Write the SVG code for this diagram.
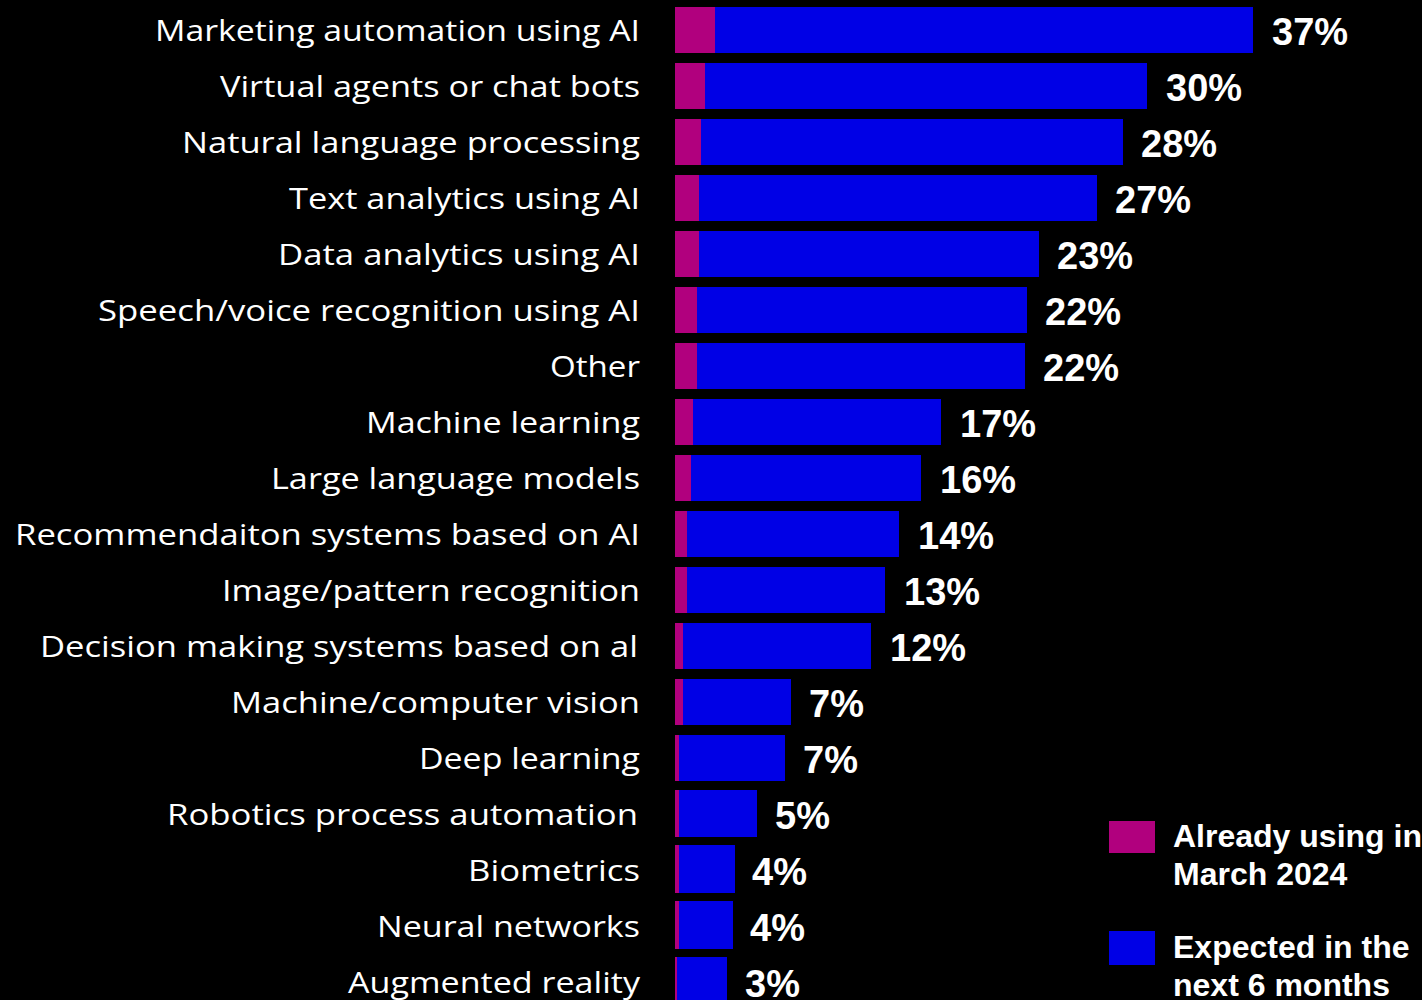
<svg xmlns="http://www.w3.org/2000/svg" width="1422" height="1000" viewBox="0 0 1422 1000">
<style>
.bg{fill:#000}
.m{fill:#B1007E}
.b{fill:#0000E6}
.lbl{font-family:"Open Sans","Liberation Sans",sans-serif;font-size:30px;fill:#fff;text-anchor:end}
.val{font-family:"Liberation Sans",Arial,sans-serif;font-weight:bold;font-size:38px;fill:#fff}
.leg{font-family:"Liberation Sans",Arial,sans-serif;font-weight:bold;font-size:32px;fill:#fff}
</style>
<rect class="bg" x="0" y="0" width="1422" height="1000"/>
<g id="labels">
<text class="lbl" x="640" y="41" textLength="485" lengthAdjust="spacingAndGlyphs">Marketing automation using AI</text>
<text class="lbl" x="640" y="97" textLength="420" lengthAdjust="spacingAndGlyphs">Virtual agents or chat bots</text>
<text class="lbl" x="640" y="153" textLength="458" lengthAdjust="spacingAndGlyphs">Natural language processing</text>
<text class="lbl" x="640" y="209" textLength="351" lengthAdjust="spacingAndGlyphs">Text analytics using AI</text>
<text class="lbl" x="640" y="265" textLength="362" lengthAdjust="spacingAndGlyphs">Data analytics using AI</text>
<text class="lbl" x="640" y="321" textLength="542" lengthAdjust="spacingAndGlyphs">Speech/voice recognition using AI</text>
<text class="lbl" x="640" y="377" textLength="90" lengthAdjust="spacingAndGlyphs">Other</text>
<text class="lbl" x="640" y="433" textLength="274" lengthAdjust="spacingAndGlyphs">Machine learning</text>
<text class="lbl" x="640" y="489" textLength="369" lengthAdjust="spacingAndGlyphs">Large language models</text>
<text class="lbl" x="640" y="545" textLength="625" lengthAdjust="spacingAndGlyphs">Recommendaiton systems based on AI</text>
<text class="lbl" x="640" y="601" textLength="418" lengthAdjust="spacingAndGlyphs">Image/pattern recognition</text>
<text class="lbl" x="638" y="657" textLength="598" lengthAdjust="spacingAndGlyphs">Decision making systems based on al</text>
<text class="lbl" x="640" y="713" textLength="409" lengthAdjust="spacingAndGlyphs">Machine/computer vision</text>
<text class="lbl" x="640" y="769" textLength="221" lengthAdjust="spacingAndGlyphs">Deep learning</text>
<text class="lbl" x="638" y="825" textLength="471" lengthAdjust="spacingAndGlyphs">Robotics process automation</text>
<text class="lbl" x="640" y="881" textLength="172" lengthAdjust="spacingAndGlyphs">Biometrics</text>
<text class="lbl" x="640" y="937" textLength="263" lengthAdjust="spacingAndGlyphs">Neural networks</text>
<text class="lbl" x="640" y="993" textLength="292" lengthAdjust="spacingAndGlyphs">Augmented reality</text>
</g>
<g id="bars">
<rect class="b" x="675" y="7" width="578" height="46"/><rect class="m" x="675" y="7" width="40" height="46"/>
<rect class="b" x="675" y="63" width="472" height="46"/><rect class="m" x="675" y="63" width="30" height="46"/>
<rect class="b" x="675" y="119" width="448" height="46"/><rect class="m" x="675" y="119" width="26" height="46"/>
<rect class="b" x="675" y="175" width="422" height="46"/><rect class="m" x="675" y="175" width="24" height="46"/>
<rect class="b" x="675" y="231" width="364" height="46"/><rect class="m" x="675" y="231" width="24" height="46"/>
<rect class="b" x="675" y="287" width="352" height="46"/><rect class="m" x="675" y="287" width="22" height="46"/>
<rect class="b" x="675" y="343" width="350" height="46"/><rect class="m" x="675" y="343" width="22" height="46"/>
<rect class="b" x="675" y="399" width="266" height="46"/><rect class="m" x="675" y="399" width="18" height="46"/>
<rect class="b" x="675" y="455" width="246" height="46"/><rect class="m" x="675" y="455" width="16" height="46"/>
<rect class="b" x="675" y="511" width="224" height="46"/><rect class="m" x="675" y="511" width="12" height="46"/>
<rect class="b" x="675" y="567" width="210" height="46"/><rect class="m" x="675" y="567" width="12" height="46"/>
<rect class="b" x="675" y="623" width="196" height="46"/><rect class="m" x="675" y="623" width="8" height="46"/>
<rect class="b" x="675" y="679" width="116" height="46"/><rect class="m" x="675" y="679" width="8" height="46"/>
<rect class="b" x="675" y="735" width="110" height="46"/><rect class="m" x="675" y="735" width="4" height="46"/>
<rect class="b" x="675" y="790" width="82" height="47"/><rect class="m" x="675" y="790" width="4" height="47"/>
<rect class="b" x="675" y="845" width="60" height="48"/><rect class="m" x="675" y="845" width="4" height="48"/>
<rect class="b" x="675" y="901" width="58" height="48"/><rect class="m" x="675" y="901" width="4" height="48"/>
<rect class="b" x="675" y="957" width="52" height="46"/><rect class="m" x="675" y="957" width="2" height="46"/>
</g>
<g id="values">
<text class="val" x="1272" y="45">37%</text>
<text class="val" x="1166" y="101">30%</text>
<text class="val" x="1141" y="157">28%</text>
<text class="val" x="1115" y="213">27%</text>
<text class="val" x="1057" y="269">23%</text>
<text class="val" x="1045" y="325">22%</text>
<text class="val" x="1043" y="381">22%</text>
<text class="val" x="960" y="437">17%</text>
<text class="val" x="940" y="493">16%</text>
<text class="val" x="918" y="549">14%</text>
<text class="val" x="904" y="605">13%</text>
<text class="val" x="890" y="661">12%</text>
<text class="val" x="809" y="717">7%</text>
<text class="val" x="803" y="773">7%</text>
<text class="val" x="775" y="829">5%</text>
<text class="val" x="752" y="885">4%</text>
<text class="val" x="750" y="941">4%</text>
<text class="val" x="745" y="997">3%</text>
</g>
<g id="legend">
<rect class="m" x="1109" y="821" width="46" height="32"/>
<text class="leg" x="1173" y="847">Already using in</text>
<text class="leg" x="1173" y="885">March 2024</text>
<rect class="b" x="1109" y="931" width="46" height="34"/>
<text class="leg" x="1173" y="958">Expected in the</text>
<text class="leg" x="1173" y="996">next 6 months</text>
</g>
</svg>
